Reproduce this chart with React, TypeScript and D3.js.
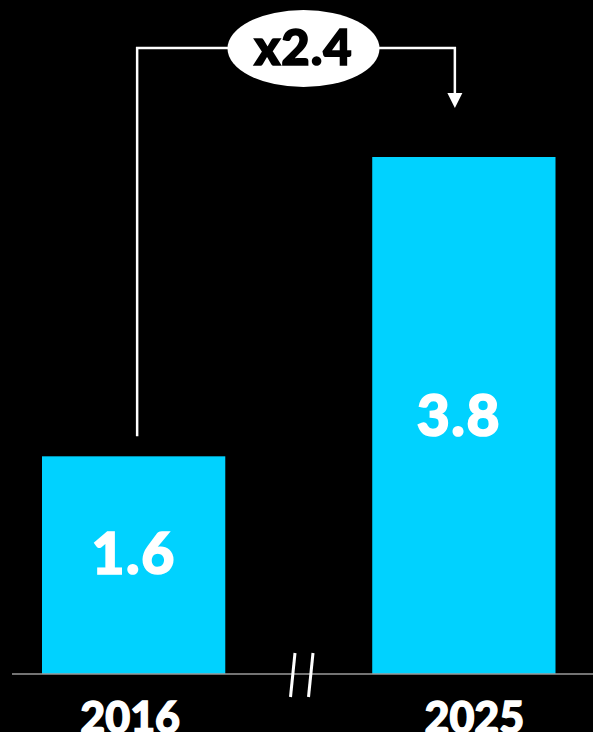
import React from "react";
import * as d3 from "d3";

const years = ["2016", "2025"];
const values = [1.6, 3.8];
const valueLabels = ["1.6", "3.8"];
const multiplierLabel = "x2.4";

const W = 593;
const H = 732;
const BASE_Y = 674;
const FONT = "Lato, 'Open Sans', 'DejaVu Sans', sans-serif";
const CYAN = "#00D2FF";

export default function App() {
  const x = d3
    .scaleBand<string>()
    .domain(years)
    .range([42, 555.5])
    .paddingInner(0.445)
    .paddingOuter(0);
  const y = d3.scaleLinear().domain([0, 3.8]).range([BASE_Y, 157]);
  const bw = x.bandwidth();

  const x1 = (x(years[0]) as number) + bw / 2;
  const x2 = (x(years[1]) as number) + bw / 2;
  const bracketY = 48;
  const leftStart = y(values[0]) - 20;
  const arrowTip = y(values[1]) - 49;
  const leftX = x1 + 3.5;
  const rightX = x2 - 9;
  const ellipseCx = 303.5;

  const labelDx = [-3.5, 10.5];
  const valueDx = [0, -5];

  return (
    <svg
      width={W}
      height={H}
      style={{ position: "absolute", left: 0, top: 0, display: "block" }}
    >
      <rect x={0} y={0} width={W} height={H} fill="#000" />
      {years.map((yr, i) => (
        <g key={yr}>
          <rect
            x={x(yr)}
            y={y(values[i])}
            width={bw}
            height={BASE_Y - y(values[i])}
            fill={CYAN}
          />
          <text
            x={(x(yr) as number) + bw / 2 + valueDx[i]}
            y={y(values[i] * 0.46)}
            textAnchor="middle"
            fill="#fff"
            stroke="#fff"
            strokeWidth={1.6}
            fontFamily={FONT}
            fontWeight={900}
            fontSize={57}
            letterSpacing={1.5}
          >
            {valueLabels[i]}
          </text>
          <text
            x={(x(yr) as number) + bw / 2 + labelDx[i]}
            y={733}
            textAnchor="middle"
            fill="#fff"
            stroke="#fff"
            strokeWidth={1.4}
            fontFamily={FONT}
            fontWeight={900}
            fontSize={43}
          >
            {yr}
          </text>
        </g>
      ))}
      <line x1={12} x2={W} y1={BASE_Y} y2={BASE_Y} stroke="#9a9a9a" strokeWidth={1.5} />
      <line x1={295} y1={653} x2={290.5} y2={697} stroke="#fff" strokeWidth={3} />
      <line x1={313} y1={653} x2={308.5} y2={697} stroke="#fff" strokeWidth={3} />

      <path
        d={`M${leftX},${leftStart} V${bracketY} H${rightX} V${arrowTip - 14}`}
        fill="none"
        stroke="#fff"
        strokeWidth={2.5}
      />
      <path
        d={`M${rightX - 7.5},${arrowTip - 15} L${rightX + 7.5},${arrowTip - 15} L${rightX},${arrowTip} Z`}
        fill="#fff"
      />
      <ellipse cx={ellipseCx} cy={48.5} rx={76} ry={38.5} fill="#fff" />
      <text
        x={ellipseCx}
        y={65}
        textAnchor="middle"
        fill="#000"
        stroke="#000"
        strokeWidth={1.6}
        fontFamily={FONT}
        fontWeight={900}
        fontSize={49}
        letterSpacing={1}
      >
        {multiplierLabel}
      </text>
    </svg>
  );
}
